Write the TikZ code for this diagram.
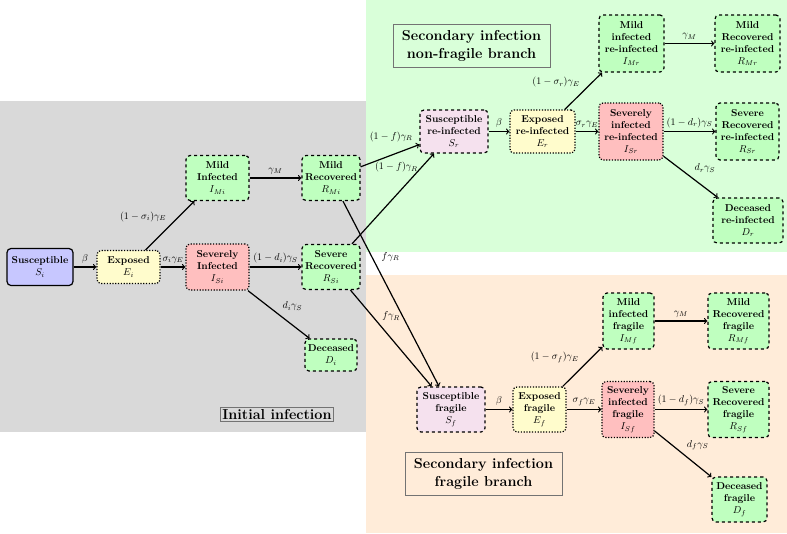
\documentclass[tikz,border=0pt]{standalone}
\usepackage{amsmath}
\usepackage{tikz}
\definecolor{reinf}{RGB}{245,225,238}

\begin{document}
\begin{tikzpicture}[x=1pt, y=-1pt,
  every node/.style={align=center},
  sz/.style 2 args={minimum width=#1pt, minimum height=#2pt},
  box/.style={rounded corners, very thick, inner sep=2pt, font=\bfseries},
  susc/.style={box, draw, fill=blue!22},
  sre/.style={box, draw, dashed, fill=reinf},
  expo/.style={box, draw, dash pattern=on 1.2pt off 1.6pt, fill=yellow!20},
  sev/.style={box, draw, dash pattern=on 1.2pt off 1.6pt, fill=red!25},
  rec/.style={box, draw, dashed, fill=green!25},
  flow/.style={->, very thick},
  title/.style={draw=black!55, font=\Large\bfseries}]
\useasboundingbox (0,0) rectangle (787,533);
\fill[black!15] (0,101) rectangle (366,432);
\fill[green!15] (366,0) rectangle (787,252);
\fill[orange!15] (366,275) rectangle (787,533);

\node[title, inner sep=2pt] (tinit) at (277,414.5) {Initial infection};
\node[title, inner xsep=9pt, inner ysep=6pt] (tnonfrag) at (471.5,45.5) {Secondary infection\\ non-fragile branch};
\node[title, inner xsep=9pt, inner ysep=6pt] (tfrag) at (483.5,474) {Secondary infection\\ fragile branch};

\node[susc, sz={66}{37}] (Si) at (40,267) {Susceptible\\ $S_i$};
\node[expo, sz={63}{33}] (Ei) at (128.5,267) {Exposed\\ $E_i$};
\node[sev, sz={63}{46}] (ISi) at (217.5,267) {Severely\\ Infected\\ $I_{Si}$};
\node[rec, sz={63}{45}] (IMi) at (217.5,178) {Mild\\ Infected\\ $I_{Mi}$};
\node[rec, sz={58}{45}] (RMi) at (331,178) {Mild\\ Recovered\\ $R_{Mi}$};
\node[rec, sz={58}{45}] (RSi) at (331,267) {Severe\\ Recovered\\ $R_{Si}$};
\node[rec, sz={52}{32}] (Di) at (331,355) {Deceased\\ $D_i$};

\node[sre, sz={68}{43}] (Sr) at (454,131.5) {Susceptible\\ re-infected\\ $S_r$};
\node[expo, sz={65}{43}] (Er) at (542.5,131.5) {Exposed\\ re-infected\\ $E_r$};
\node[sev, sz={64}{57}] (ISr) at (631,131.5) {Severely\\ infected\\ re-infected\\ $I_{Sr}$};
\node[rec, sz={65}{57}] (IMr) at (631.5,43.5) {Mild\\ infected\\ re-infected\\ $I_{Mr}$};
\node[rec, sz={65}{57}] (RMr) at (747.5,43.5) {Mild\\ Recovered\\ re-infected\\ $R_{Mr}$};
\node[rec, sz={63}{57}] (RSr) at (747.5,131.5) {Severe\\ Recovered\\ re-infected\\ $R_{Sr}$};
\node[rec, sz={70}{45}] (Dr) at (748,220.5) {Deceased\\ re-infected\\ $D_r$};

\node[sre, sz={68}{45}] (Sf) at (451,409.5) {Susceptible\\ fragile\\ $S_f$};
\node[expo, sz={53}{45}] (Ef) at (539.5,409.5) {Exposed\\ fragile\\ $E_f$};
\node[sev, sz={52}{56}] (ISf) at (628,409.5) {Severely\\ infected\\ fragile\\ $I_{Sf}$};
\node[rec, sz={51}{56}] (IMf) at (628.5,321) {Mild\\ infected\\ fragile\\ $I_{Mf}$};
\node[rec, sz={61}{56}] (RMf) at (738.5,321) {Mild\\ Recovered\\ fragile\\ $R_{Mf}$};
\node[rec, sz={61}{56}] (RSf) at (738.5,409.5) {Severe\\ Recovered\\ fragile\\ $R_{Sf}$};
\node[rec, sz={55}{45}] (Df) at (739.5,499.5) {Deceased\\ fragile\\ $D_f$};

\draw[flow] (Si) -- node[above] {$\beta$} (Ei);
\draw[flow] (Ei) -- node[above] {$\sigma_i\gamma_E$} (ISi);
\draw[flow] (Ei) -- node[above left] {$(1-\sigma_i)\gamma_E$} (IMi);
\draw[flow] (IMi) -- node[above] {$\gamma_M$} (RMi);
\draw[flow] (ISi) -- node[above] {$(1-d_i)\gamma_S$} (RSi);
\draw[flow] (ISi) -- node[above right] {$d_i\gamma_S$} (Di);

\draw[flow] (RMi) -- node[pos=0.95, above left] {$(1-f)\gamma_R$} (Sr);
\draw[flow] (RSi) -- node[pos=0.85, left] {$(1-f)\gamma_R$} (Sr);
\draw[flow] (RMi) -- node[pos=0.3, right=6pt] {$f\gamma_R$} (Sf);
\draw[flow] (RSi) -- node[pos=0.27, right=6pt] {$f\gamma_R$} (Sf);

\draw[flow] (Sr) -- node[above] {$\beta$} (Er);
\draw[flow] (Er) -- node[above] {$\sigma_r\gamma_E$} (ISr);
\draw[flow] (Er) -- node[above left] {$(1-\sigma_r)\gamma_E$} (IMr);
\draw[flow] (IMr) -- node[above] {$\gamma_M$} (RMr);
\draw[flow] (ISr) -- node[above] {$(1-d_r)\gamma_S$} (RSr);
\draw[flow] (ISr) -- node[above right] {$d_r\gamma_S$} (Dr);

\draw[flow] (Sf) -- node[above] {$\beta$} (Ef);
\draw[flow] (Ef) -- node[above] {$\sigma_f\gamma_E$} (ISf);
\draw[flow] (Ef) -- node[above left] {$(1-\sigma_f)\gamma_E$} (IMf);
\draw[flow] (IMf) -- node[above] {$\gamma_M$} (RMf);
\draw[flow] (ISf) -- node[above] {$(1-d_f)\gamma_S$} (RSf);
\draw[flow] (ISf) -- node[above right] {$d_f\gamma_S$} (Df);
\end{tikzpicture}
\end{document}
